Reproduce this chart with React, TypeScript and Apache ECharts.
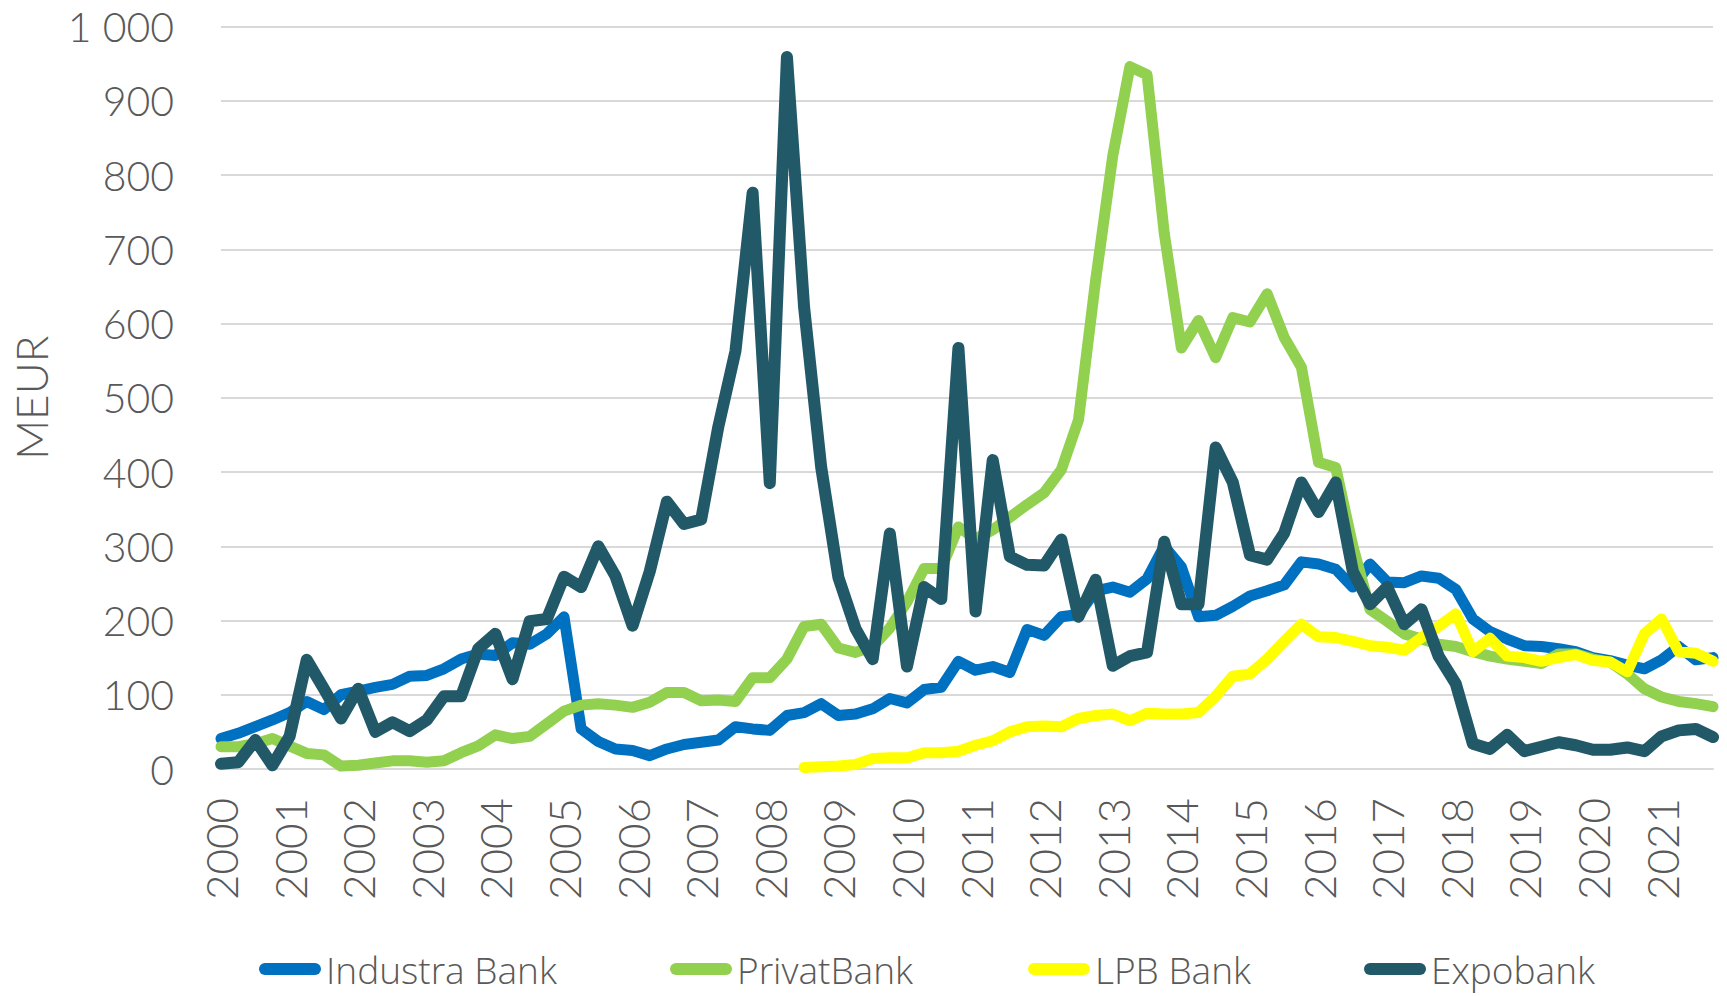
import React, { useEffect, useRef } from 'react';
import * as echarts from 'echarts';

const years = [2000, 2001, 2002, 2003, 2004, 2005, 2006, 2007, 2008, 2009, 2010, 2011, 2012, 2013, 2014, 2015, 2016, 2017, 2018, 2019, 2020, 2021];
const quarterNames = ['Q1', 'Q2', 'Q3', 'Q4'];
const categories = years.flatMap((y) => quarterNames.map((q) => `${y} ${q}`));

const seriesNames = ['Industra Bank', 'PrivatBank', 'LPB Bank', 'Expobank'];
const seriesColors = ['#0070C0', '#92D050', '#FFFF00', '#215968'];
const lineWidths = [11, 11, 11, 12];
const legendLefts = [259, 670, 1028, 1364];

const industra = [
  41, 48, 57, 66, 76, 91, 80, 100, 105, 110,
  114, 125, 126, 135, 148, 155, 153, 170, 168, 182,
  205, 54, 37, 27, 25, 18, 27, 33, 36, 39,
  57, 54, 52, 72, 76, 88, 72, 74, 81, 95,
  89, 107, 110, 145, 133, 138, 130, 188, 180, 205,
  208, 240, 245, 238, 256, 300, 272, 205, 207, 219,
  233, 240, 248, 279, 276, 269, 245, 276, 252, 251,
  260, 257, 242, 202, 185, 175, 166, 165, 162, 158,
  150, 146, 140, 135, 147, 165, 147, 150,
];

const privat = [
  30, 30, 34, 41, 31, 21, 19, 4, 5, 8,
  11, 11, 9, 11, 22, 31, 46, 41, 44, 61,
  78, 86, 88, 86, 83, 90, 103, 103, 92, 93,
  91, 123, 123, 148, 192, 195, 163, 157, 165, 190,
  225, 270, 270, 326, 310, 322, 339, 356, 372, 403,
  470, 658, 826, 946, 935, 722, 567, 604, 554, 608,
  602, 640, 581, 541, 413, 406, 300, 215, 199, 182,
  175, 168, 165, 158, 152, 148, 145, 142, 155, 155,
  148, 144, 128, 108, 97, 91, 88, 84,
];

const lpb = [
  null, null, null, null, null, null, null, null, null, null,
  null, null, null, null, null, null, null, null, null, null,
  null, null, null, null, null, null, null, null, null, null,
  null, null, null, null, 2, 3, 4, 6, 14, 15,
  15, 22, 22, 24, 32, 38, 50, 57, 58, 57,
  68, 72, 74, 65, 75, 74, 74, 76, 98, 125,
  128, 148, 172, 195, 178, 177, 172, 166, 164, 160,
  177, 192, 209, 158, 176, 152, 150, 145, 150, 154,
  146, 144, 131, 182, 202, 158, 156, 145,
];

const expo = [
  7, 9, 39, 5, 44, 147, 108, 68, 108, 50,
  63, 51, 66, 98, 98, 162, 182, 121, 199, 202,
  259, 245, 300, 260, 193, 266, 360, 330, 336, 461,
  563, 776, 385, 959, 622, 406, 258, 189, 148, 317,
  138, 245, 229, 567, 212, 416, 286, 275, 274, 309,
  205, 255, 139, 152, 157, 306, 222, 222, 433, 386,
  288, 282, 318, 386, 346, 386, 266, 222, 245, 195,
  215, 152, 115, 34, 27, 46, 24, 30, 36, 32,
  26, 26, 29, 24, 44, 52, 54, 43,
];

const seriesData = [industra, privat, lpb, expo];

const axisFont = 'Lato, "Open Sans", sans-serif';
const legendFont = '"Open Sans", Lato, sans-serif';
const textColor = '#595959';

export default function App() {
  const ref = useRef<HTMLDivElement>(null);

  useEffect(() => {
    const chart = echarts.init(ref.current as HTMLDivElement, null, { renderer: 'svg' });
    chart.setOption({
      animation: false,
      backgroundColor: '#ffffff',
      grid: { left: 221, right: 14, top: 26.5, bottom: 227, containLabel: false },
      legend: seriesNames.map((name, i) => ({
        left: legendLefts[i],
        top: 948,
        padding: 0,
        itemWidth: 62,
        itemHeight: 12,
        icon: 'path://M6 0H56A6 6 0 0 1 56 12H6A6 6 0 0 1 6 0Z',
        selectedMode: false,
        textStyle: { fontFamily: legendFont, fontWeight: 300, fontSize: 37, lineHeight: 42, color: textColor },
        data: [name],
      })),
      xAxis: {
        type: 'category',
        data: categories,
        boundaryGap: false,
        axisLine: { show: true, lineStyle: { color: '#D9D9D9', width: 2 } },
        axisTick: { show: false },
        splitLine: { show: false },
        axisLabel: {
          interval: 3,
          rotate: 90,
          margin: 29,
          color: textColor,
          fontFamily: axisFont,
          fontWeight: 300,
          fontSize: 44,
          formatter: (v: string) => v.slice(0, 4),
        },
      },
      yAxis: {
        type: 'value',
        min: 0,
        max: 1000,
        interval: 100,
        name: 'MEUR',
        nameLocation: 'middle',
        nameGap: 168,
        nameRotate: 90,
        nameTextStyle: { color: textColor, fontFamily: axisFont, fontWeight: 300, fontSize: 44 },
        axisLine: { show: false },
        axisTick: { show: false },
        splitLine: { show: true, lineStyle: { color: '#D9D9D9', width: 2 } },
        axisLabel: {
          margin: 47,
          color: textColor,
          fontFamily: axisFont,
          fontWeight: 300,
          fontSize: 41,
          formatter: (v: number) => String(v).replace(/\B(?=(\d{3})+(?!\d))/g, ' '),
        },
      },
      series: seriesNames.map((name, i) => ({
        name,
        type: 'line',
        data: seriesData[i],
        showSymbol: false,
        symbol: 'none',
        connectNulls: false,
        color: seriesColors[i],
        lineStyle: { width: lineWidths[i], color: seriesColors[i], cap: 'round', join: 'round' },
        emphasis: { disabled: true },
      })),
    });
    return () => chart.dispose();
  }, []);

  return (
    <div
      ref={ref}
      style={{ position: 'fixed', left: 0, top: 0, width: 1727, height: 996, background: '#ffffff' }}
    />
  );
}
